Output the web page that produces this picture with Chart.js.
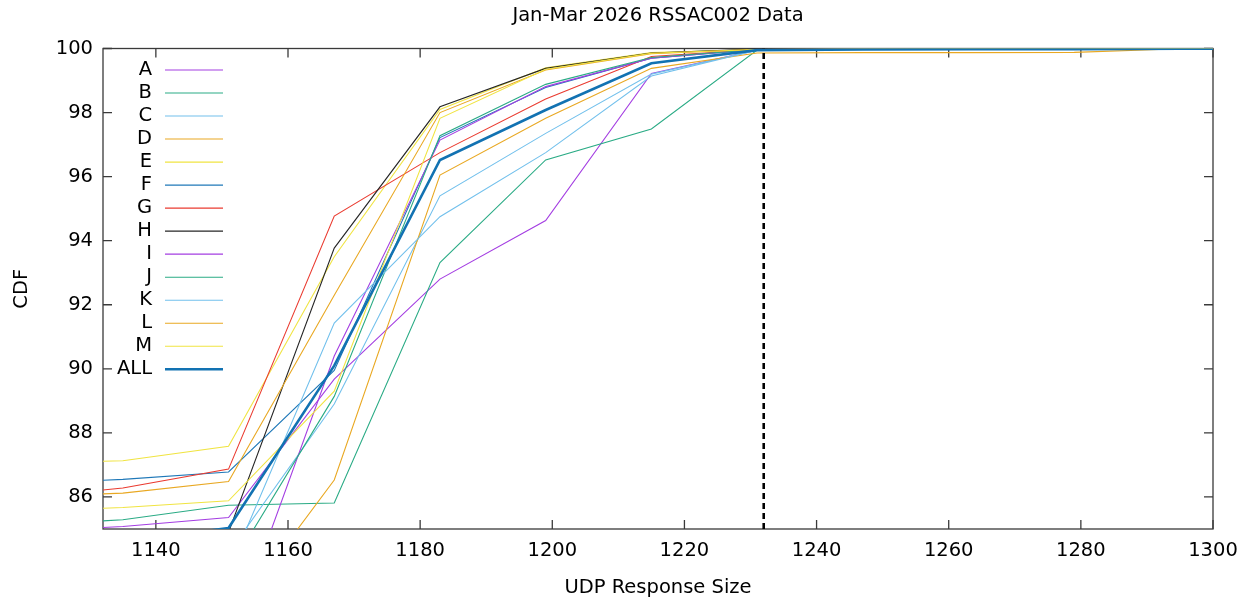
<!DOCTYPE html>
<html>
<head>
<meta charset="utf-8">
<title>Jan-Mar 2026 RSSAC002 Data</title>
<script src="https://cdn.jsdelivr.net/npm/chart.js@4/dist/chart.umd.min.js"></script>
<style>
  html, body { margin: 0; padding: 0; background: #fff; }
  canvas { display: block; }
</style>
</head>
<body>
<canvas id="cdfChart" width="1250" height="600"></canvas>
<script>
// response sizes (bin upper edges) shared by all series
const sizes = [1119, 1135, 1151, 1167, 1183, 1199, 1215, 1231, 1247, 1263, 1279, 1295, 1311];

// CDF values per root server letter (%)
const cdfA = [84.9, 85.08, 85.36, 89.68, 92.8, 94.63, 99.22, 99.95, 99.98, 99.99, 99.99, 100, 100];
const cdfB = [85.1, 85.29, 85.74, 85.81, 93.32, 96.52, 97.49, 99.95, 99.98, 99.99, 99.99, 100, 100];
const cdfC = [83.0, 83.5, 84.25, 88.9, 95.4, 97.35, 99.2, 99.95, 99.98, 99.99, 99.99, 100, 100];
const cdfD = [78.0, 80.0, 82.1, 86.53, 96.05, 97.82, 99.38, 99.86, 99.87, 99.87, 99.88, 99.99, 100];
const cdfE = [87.05, 87.13, 87.58, 93.5, 98.1, 99.4, 99.87, 99.97, 99.98, 99.99, 99.99, 100, 100];
const cdfF = [86.4, 86.55, 86.78, 89.95, 97.22, 98.78, 99.7, 99.97, 99.98, 99.99, 99.99, 100, 100];
const cdfG = [85.95, 86.28, 86.87, 94.77, 96.75, 98.42, 99.75, 99.97, 99.98, 99.99, 99.99, 100, 100];
const cdfH = [83.5, 84.3, 84.9, 93.77, 98.18, 99.38, 99.86, 99.98, 99.99, 99.99, 100, 100, 100];
const cdfI = [79.0, 80.2, 81.3, 90.4, 97.14, 98.81, 99.7, 99.97, 99.98, 99.99, 99.99, 100, 100];
const cdfJ = [80.5, 82.0, 83.7, 89.14, 97.28, 98.88, 99.72, 99.97, 99.98, 99.99, 99.99, 100, 100];
const cdfK = [80.0, 81.8, 83.7, 91.43, 94.75, 96.75, 99.14, 99.95, 99.98, 99.99, 99.99, 100, 100];
const cdfL = [86.0, 86.12, 86.48, 92.3, 98.0, 99.33, 99.84, 99.97, 99.98, 99.99, 99.99, 100, 100];
const cdfM = [85.55, 85.67, 85.88, 89.3, 97.82, 99.35, 99.85, 99.97, 99.98, 99.99, 99.99, 100, 100];
const cdfAll = [84.2, 84.6, 85.03, 90.1, 96.52, 98.08, 99.54, 99.95, 99.97, 99.98, 99.98, 99.99, 100];

const letters = ['A', 'B', 'C', 'D', 'E', 'F', 'G', 'H', 'I', 'J', 'K', 'L', 'M', 'ALL'];
const cdfs = [cdfA, cdfB, cdfC, cdfD, cdfE, cdfF, cdfG, cdfH, cdfI, cdfJ, cdfK, cdfL, cdfM, cdfAll];

// vertical marker at the 1232 byte buffer size
const markerSize = 1232;
const markerRange = [85, 100];

// axis ticks
const xTicks = [1140, 1160, 1180, 1200, 1220, 1240, 1260, 1280, 1300];
const yTicks = [86, 88, 90, 92, 94, 96, 98, 100];

// gnuplot-like line colours (a bit softened), cycling after H
const palette = ['#a43ee2', '#2aab85', '#72c0ec', '#e9a822', '#f0e442', '#1f78b8', '#ea3b30', '#262626'];

const FONT = 'DejaVu Sans';
const fontSpec = { family: FONT, size: 19.5, weight: 'normal' };

const datasets = cdfs.map((vals, i) => {
    const isAll = letters[i] === 'ALL';
    return {
        label: letters[i],
        data: vals.map((v, j) => ({ x: sizes[j], y: v })),
        borderColor: isAll ? '#1272b2' : palette[i % palette.length],
        borderWidth: isAll ? 2.6 : 1.1,
        pointRadius: 0,
        tension: 0,
        fill: false,
        order: cdfs.length - i
    };
});

datasets.push({
    label: 'marker',
    data: markerRange.map(v => ({ x: markerSize, y: v })),
    borderColor: '#000000',
    borderWidth: 2.6,
    borderDash: [6, 4],
    pointRadius: 0,
    fill: false,
    order: -1
});

// border with inward ticks on all four sides, like gnuplot
const framePlugin = {
    id: 'frame',
    beforeDatasetsDraw(chart) {
        const { ctx, chartArea: a, scales } = chart;
        const len = 9;
        ctx.save();
        ctx.strokeStyle = '#3a3a3a';
        ctx.lineWidth = 1.3;
        ctx.strokeRect(a.left, a.top, a.right - a.left, a.bottom - a.top);
        ctx.beginPath();
        xTicks.forEach(v => {
            const px = scales.x.getPixelForValue(v);
            ctx.moveTo(px, a.bottom); ctx.lineTo(px, a.bottom - len);
            ctx.moveTo(px, a.top); ctx.lineTo(px, a.top + len);
        });
        yTicks.forEach(v => {
            const py = scales.y.getPixelForValue(v);
            ctx.moveTo(a.left, py); ctx.lineTo(a.left + len, py);
            ctx.moveTo(a.right, py); ctx.lineTo(a.right - len, py);
        });
        ctx.stroke();
        ctx.restore();
    }
};

// title centred over the plot area
const headPlugin = {
    id: 'head',
    afterDraw(chart) {
        const { ctx, chartArea: a } = chart;
        ctx.save();
        ctx.font = '19.5px "' + FONT + '"';
        ctx.fillStyle = '#000';
        ctx.textAlign = 'center';
        ctx.textBaseline = 'middle';
        ctx.fillText('Jan-Mar 2026 RSSAC002 Data', (a.left + a.right) / 2, 15.7);
        ctx.restore();
    }
};

// key in the top-left corner: right aligned text, then a line sample
const keyPlugin = {
    id: 'key',
    afterDatasetsDraw(chart) {
        const { ctx } = chart;
        ctx.save();
        ctx.font = '19.5px "' + FONT + '"';
        ctx.textAlign = 'right';
        ctx.textBaseline = 'middle';
        chart.data.datasets.forEach((ds, i) => {
            if (ds.label === 'marker') return;
            const y = 70 + i * 23.02;
            ctx.fillStyle = '#000';
            ctx.fillText(ds.label, 152, y);
            ctx.strokeStyle = ds.borderColor;
            ctx.lineWidth = ds.borderWidth;
            ctx.beginPath();
            ctx.moveTo(165, y);
            ctx.lineTo(223, y);
            ctx.stroke();
        });
        ctx.restore();
    }
};

const ctx = document.getElementById('cdfChart').getContext('2d');
new Chart(ctx, {
    type: 'line',
    data: { datasets: datasets },
    options: {
        responsive: false,
        animation: false,
        layout: { padding: { left: 0, right: 37, top: 48.5, bottom: 0 } },
        plugins: {
            legend: { display: false },
            tooltip: { enabled: false },
            title: { display: false }
        },
        scales: {
            x: {
                type: 'linear',
                min: 1132,
                max: 1300,
                afterBuildTicks: s => { s.ticks = xTicks.map(v => ({ value: v })); },
                afterFit: s => { s.height = 71; },
                grid: { display: false, drawTicks: false },
                border: { display: false },
                ticks: { color: '#000', font: fontSpec, padding: 10, maxRotation: 0, callback: v => String(v) },
                title: { display: true, text: 'UDP Response Size', color: '#000', font: fontSpec, padding: { top: 0, bottom: 0 } }
            },
            y: {
                type: 'linear',
                min: 85,
                max: 100,
                afterBuildTicks: s => { s.ticks = yTicks.map(v => ({ value: v })); },
                afterFit: s => { s.width = 103; },
                grid: { display: false, drawTicks: false },
                border: { display: false },
                ticks: { color: '#000', font: fontSpec, padding: 10, callback: v => String(v) },
                title: { display: true, text: 'CDF', color: '#000', font: fontSpec, padding: { top: 10, bottom: 0 } }
            }
        }
    },
    plugins: [framePlugin, headPlugin, keyPlugin]
});
</script>
</body>
</html>
